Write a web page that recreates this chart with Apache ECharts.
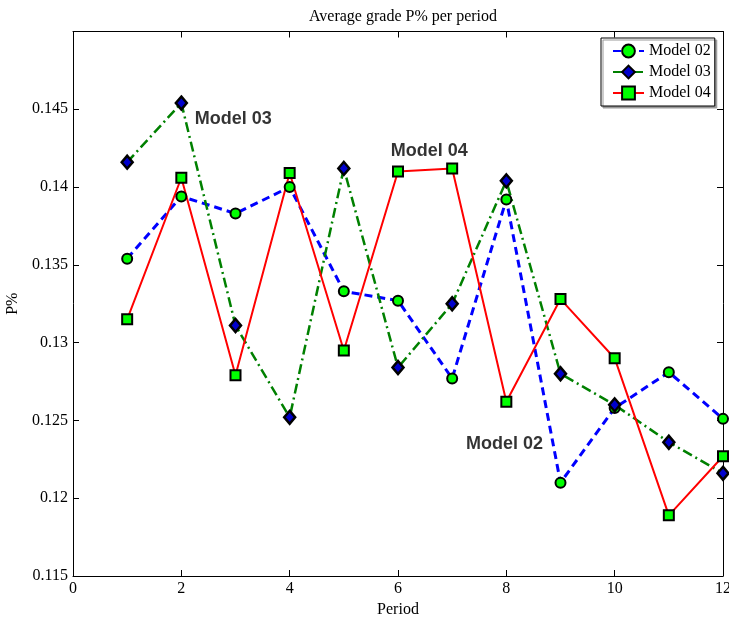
<!DOCTYPE html>
<html>
<head>
<meta charset="utf-8">
<script src="https://cdn.jsdelivr.net/npm/echarts@6/dist/echarts.min.js"></script>
<style>html,body{margin:0;padding:0;background:#fff}#c{width:729px;height:617px}</style>
</head>
<body>
<div id="c"></div>
<script>
const periods = [1,2,3,4,5,6,7,8,9,10,11,12];
const model02 = [0.1354,0.1394,0.1383,0.1400,0.1333,0.1327,0.1277,0.1392,0.1210,0.1258,0.1281,0.1251];
const model03 = [0.1416,0.1454,0.1311,0.1252,0.1412,0.1284,0.1325,0.1404,0.1280,0.1260,0.1236,0.1216];
const model04 = [0.1315,0.1406,0.1279,0.1409,0.1295,0.1410,0.1412,0.1262,0.1328,0.1290,0.1189,0.1227];
const seriesNames = ['Model 02','Model 03','Model 04'];
const annotationText = ['Model 03','Model 04','Model 02'];
const annotationX = [2.247,5.865,7.255];
const annotationY = [0.1444,0.1423,0.1235];
const xTicks = [0,2,4,6,8,10,12];
const yTicks = [0.115,0.12,0.125,0.13,0.135,0.14,0.145,0.15];

const chart = echarts.init(document.getElementById('c'), null, {renderer:'canvas'});
const serif = 'Liberation Serif, Times New Roman, serif';
function pairs(vals){ return periods.map((p,i)=>[p, vals[i]]); }
const axisCommon = {
  axisLine:{show:true, onZero:false, lineStyle:{color:'#000', width:1}},
  axisTick:{show:true, inside:true, length:6, lineStyle:{color:'#000'}},
  splitLine:{show:false}
};
const option = {
  backgroundColor:'#fff',
  animation:false,
  title:{text:'Average grade P% per period', left:398, top:4, textAlign:'center',
    textStyle:{fontFamily:serif, fontSize:16, fontWeight:'normal', color:'#000'}},
  grid:{left:73, right:6, top:31.5, bottom:41, containLabel:false, outerBoundsMode:'none'},
  legend:{
    data:seriesNames, orient:'vertical', left:601, top:38,
    itemWidth:31, itemHeight:16, itemGap:5,
    padding:[5,4,5,11],
    backgroundColor:'#fff', borderColor:'#000', borderWidth:1,
    shadowColor:'#999', shadowOffsetX:2, shadowOffsetY:2, shadowBlur:0,
    textStyle:{fontFamily:serif, fontSize:16, color:'#000', padding:[0,0,0,0]}
  },
  xAxis:[
    Object.assign({type:'value', min:0, max:12, interval:2, position:'bottom',
      name:'Period', nameLocation:'middle', nameGap:23,
      nameTextStyle:{fontFamily:serif, fontSize:16, color:'#000'},
      axisLabel:{fontFamily:serif, fontSize:16, color:'#000', margin:5,
        formatter:v=>xTicks.includes(v)?String(v):''}}, axisCommon),
    Object.assign({type:'value', min:0, max:12, interval:2, position:'top',
      axisLabel:{show:false}}, axisCommon)
  ],
  yAxis:[
    Object.assign({type:'value', min:0.115, max:0.15, interval:0.005, position:'left',
      name:'P%', nameLocation:'middle', nameGap:46,
      nameTextStyle:{fontFamily:serif, fontSize:16, color:'#000'},
      axisLabel:{fontFamily:serif, fontSize:16, color:'#000', margin:5,
        formatter:v=>{ const r=+v.toFixed(3); return r>=0.15?'':String(r);} }}, axisCommon),
    Object.assign({type:'value', min:0.115, max:0.15, interval:0.005, position:'right',
      axisLabel:{show:false}}, axisCommon)
  ],
  series:[
    {name:'Model 02', type:'line', data:pairs(model02), symbol:'circle', symbolSize:10,
      lineStyle:{color:'#0000ff', width:3, type:[8,5]},
      itemStyle:{color:'#00ff00', borderColor:'#000', borderWidth:2}},
    {name:'Model 03', type:'line', data:pairs(model03), symbol:'diamond', symbolSize:[11,13],
      lineStyle:{color:'#008000', width:2.5, type:[10,4,2,4]},
      itemStyle:{color:'#0000cc', borderColor:'#000', borderWidth:2.5}},
    {name:'Model 04', type:'line', data:pairs(model04), symbol:'rect', symbolSize:10,
      lineStyle:{color:'#ff0000', width:2, type:'solid'},
      itemStyle:{color:'#00ff00', borderColor:'#000', borderWidth:2}},
    {name:'annotations', type:'scatter', symbolSize:0, silent:true, z:10,
      data:annotationText.map((t,i)=>({value:[annotationX[i], annotationY[i]], name:t})),
      label:{show:true, position:[0,0], align:'left', verticalAlign:'middle',
        formatter:p=>p.name, fontFamily:'Liberation Sans, Arial, sans-serif',
        fontWeight:'bold', fontSize:18, color:'#000'}}
  ]
};
chart.setOption(option);
</script>
</body>
</html>
